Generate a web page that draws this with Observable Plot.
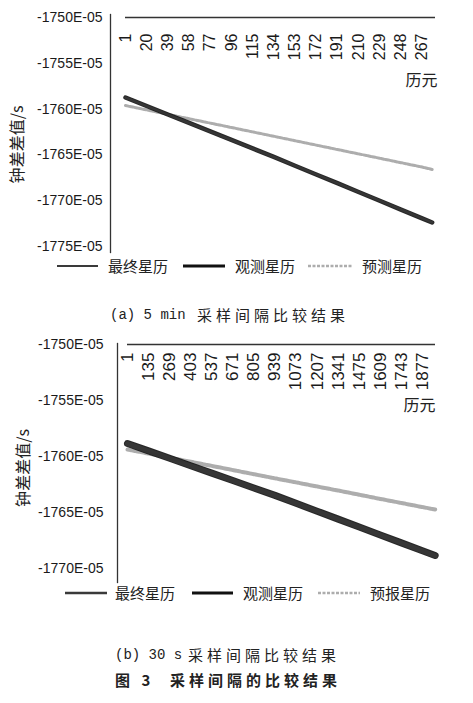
<!DOCTYPE html>
<html>
<head>
<meta charset="utf-8">
<script src="https://cdn.jsdelivr.net/npm/d3@7"></script>
<script src="https://cdn.jsdelivr.net/npm/@observablehq/plot@0.6"></script>
<style>
  html, body { margin: 0; padding: 0; background: #fff; }
  #root { position: relative; width: 473px; height: 703px; background: #fff; overflow: hidden; }
  .abs { position: absolute; }
  .leg { font-family: "Noto Sans CJK SC", sans-serif; font-size: 15px; color: #222; white-space: nowrap; }
  .cap { font-family: "Noto Sans CJK SC", sans-serif; font-size: 15px; color: #222; white-space: nowrap; letter-spacing: 4px; }
  .mono { font-family: "Liberation Mono", "DejaVu Sans Mono", monospace; font-size: 14px; color: #222; white-space: nowrap; }
</style>
</head>
<body>
<div id="root"></div>
<script>
// ---------- Data: panel (a) 5 min sampling ----------
const epochsA    = [1, 20, 39, 58, 77, 96, 115, 134, 153, 172, 191, 210, 229, 248, 267, 276];
const finalA     = [-1758.75, -1759.68, -1760.60, -1761.52, -1762.45, -1763.37, -1764.30, -1765.23, -1766.18, -1767.13, -1768.09, -1769.05, -1770.00, -1770.96, -1771.92, -1772.36];
const observedA  = [-1758.73, -1759.66, -1760.59, -1761.51, -1762.43, -1763.36, -1764.29, -1765.22, -1766.18, -1767.14, -1768.09, -1769.05, -1770.01, -1770.97, -1771.93, -1772.38];
const predictedA = [-1759.61, -1760.09, -1760.57, -1761.05, -1761.53, -1762.01, -1762.49, -1762.97, -1763.45, -1763.93, -1764.41, -1764.89, -1765.37, -1765.85, -1766.33, -1766.59];
const xTicksA    = [1, 20, 39, 58, 77, 96, 115, 134, 153, 172, 191, 210, 229, 248, 267];
const yTicksA    = [-1750, -1755, -1760, -1765, -1770, -1775];
const namesA     = ["最终星历", "观测星历", "预测星历"];

// ---------- Data: panel (b) 30 s sampling ----------
const epochsB    = [1, 135, 269, 403, 537, 671, 805, 939, 1073, 1207, 1341, 1475, 1609, 1743, 1877, 1958];
const finalB     = [-1758.86, -1759.52, -1760.17, -1760.83, -1761.49, -1762.15, -1762.82, -1763.48, -1764.19, -1764.89, -1765.60, -1766.30, -1767.01, -1767.72, -1768.42, -1768.86];
const observedB  = [-1758.84, -1759.50, -1760.16, -1760.82, -1761.48, -1762.14, -1762.81, -1763.47, -1764.18, -1764.88, -1765.59, -1766.29, -1767.00, -1767.71, -1768.41, -1768.84];
const predictedB = [-1759.38, -1759.74, -1760.11, -1760.47, -1760.84, -1761.21, -1761.58, -1761.95, -1762.31, -1762.68, -1763.04, -1763.41, -1763.79, -1764.15, -1764.52, -1764.73];
const xTicksB    = [1, 135, 269, 403, 537, 671, 805, 939, 1073, 1207, 1341, 1475, 1609, 1743, 1877];
const yTicksB    = [-1750, -1755, -1760, -1765, -1770];
const namesB     = ["最终星历", "观测星历", "预报星历"];

const yTitle = "钟差差值/s";
const xTitle = "历元";
const captionA = ["(a) 5 min", "采样间隔比较结果"];
const captionB = ["(b) 30 s", "采样间隔比较结果"];
const figCaption = ["图 3", "采样间隔的比较结果"];

// ---------- Styles ----------
const styles = {
  final:     {stroke: "#3a3a3a"},
  observed:  {stroke: "#111"},
  predicted: {stroke: "#adadad", dash: "3,1.5"}
};

const root = document.getElementById("root");

function panel(cfg) {
  const fin = d3.zip(cfg.epochs, cfg.final);
  const obs = d3.zip(cfg.epochs, cfg.observed);
  const pre = d3.zip(cfg.epochs, cfg.predicted);
  const yTop = cfg.yDomain[1];
  return Plot.plot({
    width: 473,
    height: cfg.height,
    marginLeft: cfg.marginLeft,
    marginRight: 33,
    marginTop: cfg.marginTop,
    marginBottom: cfg.marginBottom,
    x: {domain: cfg.xDomain, range: cfg.xRange, axis: null},
    y: {domain: cfg.yDomain, range: cfg.yRange, axis: null},
    style: {fontFamily: "'Liberation Sans', Arial, sans-serif", color: "#222", background: "transparent", overflow: "visible"},
    marks: [
      Plot.frame({anchor: "left", stroke: "#333", strokeWidth: 1.3}),
      Plot.axisY(cfg.yTicks, {tickSize: 0, tickPadding: cfg.tickPadding, tickFormat: d => `${d}E-05`, fontSize: 14, label: null, fill: "#1a1a1a"}),
      Plot.ruleY([yTop], {x1: cfg.xDomain[0], x2: cfg.xDomain[1], stroke: "#333", strokeWidth: 1.3}),
      Plot.text(cfg.xTicks, {x: d => d, y: yTop, text: d => String(d), rotate: -90, textAnchor: "end", lineAnchor: "middle", dy: cfg.labelDy, fontSize: cfg.xFont, fill: "#1a1a1a"}),
      Plot.text([xTitle], {frameAnchor: "top-right", textAnchor: "end", lineAnchor: "middle", dx: cfg.xTitleDx, dy: cfg.xTitleDy, fontSize: 16, fontFamily: "'Noto Sans CJK SC'", fill: "#222"}),
      Plot.text([yTitle], {frameAnchor: "left", textAnchor: "middle", lineAnchor: "middle", rotate: -90, dx: cfg.yTitleDx, dy: cfg.yTitleDy, fontSize: 16, fontFamily: "'Noto Sans CJK SC'", fill: "#222"}),
      Plot.line(pre, {x: d => d[0], y: d => d[1], stroke: styles.predicted.stroke, strokeWidth: cfg.wPred, strokeDasharray: styles.predicted.dash}),
      Plot.line(obs, {x: d => d[0], y: d => d[1], stroke: styles.observed.stroke, strokeWidth: cfg.wObs, strokeOpacity: 0.9}),
      Plot.line(fin, {x: d => d[0], y: d => d[1], stroke: styles.final.stroke, strokeWidth: cfg.wFin, strokeOpacity: 0.8})
    ]
  });
}

function place(el, top, left) {
  const wrap = document.createElement("div");
  wrap.className = "abs";
  wrap.style.top = top + "px";
  wrap.style.left = (left || 0) + "px";
  wrap.appendChild(el);
  root.appendChild(wrap);
  return wrap;
}

function legend(names, cy, swatches, textLefts, widths) {
  const keys = ["final", "observed", "predicted"];
  names.forEach((name, i) => {
    const [x0, x1] = swatches[i];
    const s = styles[keys[i]];
    const svg = d3.create("svg").attr("width", x1 - x0).attr("height", 10).style("display", "block");
    svg.append("line").attr("x1", 0).attr("x2", x1 - x0).attr("y1", 5).attr("y2", 5)
      .attr("stroke", s.stroke).attr("stroke-width", widths[i])
      .attr("stroke-dasharray", s.dash || null);
    place(svg.node(), cy - 5, x0);
    const t = document.createElement("div");
    t.className = "abs leg";
    t.style.left = textLefts[i] + "px";
    t.style.top = (cy - 11) + "px";
    t.style.lineHeight = "22px";
    t.textContent = name;
    root.appendChild(t);
  });
}

function caption(parts, cy, lefts, bold) {
  parts.forEach((p, i) => {
    const t = document.createElement("div");
    t.className = "abs " + (i === 0 && !bold ? "mono" : "cap");
    t.style.left = lefts[i] + "px";
    t.style.top = (cy - 11) + "px";
    t.style.lineHeight = "22px";
    if (bold) t.style.fontWeight = "bold";
    t.textContent = p;
    root.appendChild(t);
  });
}

// Panel (a)
place(panel({
  epochs: epochsA, final: finalA, observed: observedA, predicted: predictedA,
  xTicks: xTicksA, yTicks: yTicksA,
  xDomain: [1, 279], xRange: [125, 435],
  yDomain: [-1775, -1750], yRange: [246, 17],
  height: 258, marginLeft: 110, marginTop: 14, marginBottom: 6,
  tickPadding: 8, labelDy: 16, xFont: 16, xTitleDx: -3, xTitleDy: 66, yTitleDx: -93, yTitleDy: 11,
  wPred: 3, wObs: 4.5, wFin: 2.5
}), 0, 0);
legend(namesA, 266, [[57, 98], [183, 225], [308, 353]], [108, 235, 362], [2, 3, 2.5]);
caption(captionA, 315, [110, 197], false);

// Panel (b)
place(panel({
  epochs: epochsB, final: finalB, observed: observedB, predicted: predictedB,
  xTicks: xTicksB, yTicks: yTicksB,
  xDomain: [1, 1960], xRange: [127, 435],
  yDomain: [-1770, -1750], yRange: [243, 19],
  height: 262, marginLeft: 117, marginTop: 18, marginBottom: 5,
  tickPadding: 14, labelDy: 8, xFont: 17, xTitleDx: -5, xTitleDy: 62, yTitleDx: -94, yTitleDy: 5,
  wPred: 4, wObs: 7, wFin: 5
}), 325, 0);
legend(namesB, 593, [[65, 107], [192, 233], [318, 360]], [115, 243, 370], [2.5, 3, 2.5]);
caption(captionB, 655, [115, 188], false);
caption(figCaption, 680, [115, 170], true);
</script>
</body>
</html>
